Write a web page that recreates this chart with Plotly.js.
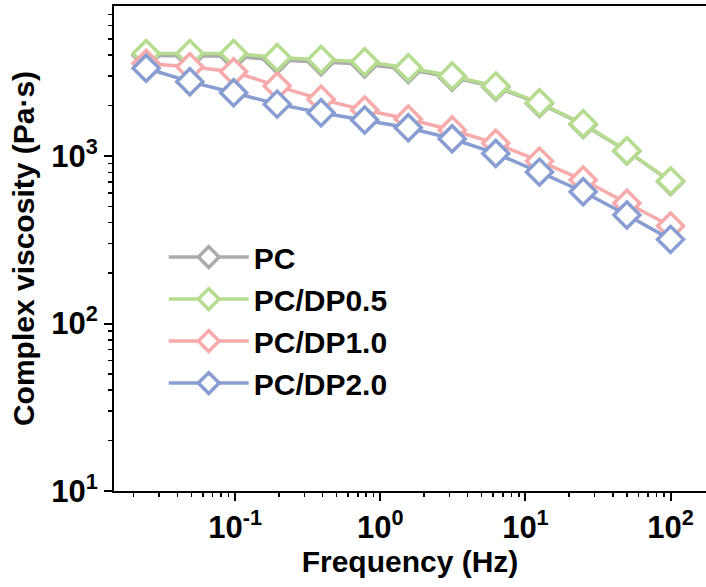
<!DOCTYPE html>
<html>
<head>
<meta charset="utf-8">
<script src="https://cdn.plot.ly/plotly-3.0.1.min.js"></script>
<style>html,body{margin:0;padding:0;overflow:hidden;background:#fff;}</style>
</head>
<body>
<div id="chart" style="width:706px;height:587px;"></div>
<script>
// Frequency (Hz)
const frequency = [0.0244, 0.0488, 0.0977, 0.195, 0.391, 0.781, 1.56, 3.13, 6.25, 12.5, 25, 50, 100];
// Complex viscosity (Pa·s)
const viscPC     = [3980, 3960, 3940, 3740, 3660, 3550, 3290, 2950, 2580, 2060, 1545, 1070, 705];
const viscDP05   = [4100, 4100, 4100, 3880, 3775, 3655, 3366, 3005, 2618, 2081, 1560, 1076, 709];
const viscDP10   = [3573, 3413, 3186, 2618, 2181, 1884, 1664, 1430, 1191, 933, 719, 522, 382];
const viscDP20   = [3343, 2781, 2389, 2042, 1814, 1641, 1476, 1268, 1037, 802, 612, 445, 318];
const seriesNames = ["PC", "PC/DP0.5", "PC/DP1.0", "PC/DP2.0"];
const seriesColors = ["#ababab", "#b6dc90", "#f7aaaa", "#889ed2"];
const seriesValues = [viscPC, viscDP05, viscDP10, viscDP20];

// Tick labels
const xTickVals = [0.1, 1, 10, 100];
const xTickText = ["10<sup>-1</sup>", "10<sup>0</sup>", "10<sup>1</sup>", "10<sup>2</sup>"];
const yTickVals = [10, 100, 1000];
const yTickText = ["10<sup>1</sup>", "10<sup>2</sup>", "10<sup>3</sup>"];

const FONT = "Liberation Sans, Arial, sans-serif";

const traces = seriesValues.map((vals, i) => ({
  x: frequency,
  y: vals,
  name: seriesNames[i],
  legendgroup: "g" + i,
  type: "scatter",
  mode: "lines+markers",
  line: {color: seriesColors[i], width: 3.5},
  marker: {symbol: "diamond", size: 20, color: "#ffffff", line: {color: seriesColors[i], width: 3.5}}
}));

const layout = {
  width: 706,
  height: 587,
  margin: {l: 114, r: 0, t: 6, b: 96, pad: 0},
  paper_bgcolor: "#ffffff",
  plot_bgcolor: "#ffffff",
  showlegend: true,
  legend: {
    x: 0.084, y: 0.536, xanchor: "left", yanchor: "top",
    bgcolor: "rgba(0,0,0,0)",
    font: {family: FONT, size: 30, color: "#000", weight: "bold"},
    tracegroupgap: 0,
    itemwidth: 80
  },
  xaxis: {
    type: "log",
    range: [-1.834, 2.244],
    showgrid: false, zeroline: false,
    showline: true, linecolor: "#000", linewidth: 2, mirror: true,
    ticks: "outside", ticklen: 8, tickwidth: 2, tickcolor: "#000",
    tickmode: "array", tickvals: xTickVals, ticktext: xTickText,
    tickfont: {family: FONT, size: 31, color: "#000", weight: "bold"},
    minor: {ticks: "outside", ticklen: 4, tickwidth: 1.5, tickcolor: "#000", dtick: "D1", showgrid: false},
    title: {text: "Frequency (Hz)", font: {family: FONT, size: 30, color: "#000", weight: "bold"}, standoff: 4}
  },
  yaxis: {
    type: "log",
    range: [1.0, 3.896],
    showgrid: false, zeroline: false,
    showline: true, linecolor: "#000", linewidth: 2, mirror: false,
    ticks: "outside", ticklen: 8, tickwidth: 2, tickcolor: "#000",
    tickmode: "array", tickvals: yTickVals, ticktext: yTickText,
    tickfont: {family: FONT, size: 31, color: "#000", weight: "bold"},
    minor: {ticks: "outside", ticklen: 4, tickwidth: 1.5, tickcolor: "#000", dtick: "D1", showgrid: false},
    title: {text: "Complex viscosity (Pa·s)", font: {family: FONT, size: 30, color: "#000", weight: "bold"}, standoff: 8}
  }
};

Plotly.newPlot("chart", traces, layout, {displayModeBar: false, staticPlot: true});
</script>
</body>
</html>
